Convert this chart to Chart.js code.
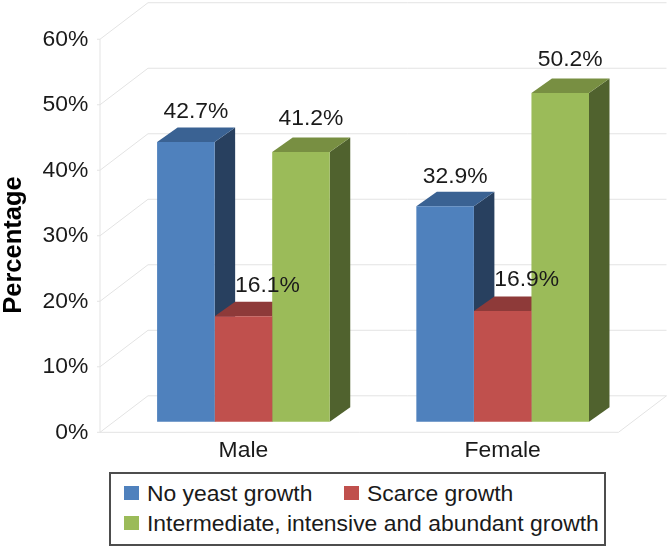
<!DOCTYPE html>
<html>
<head>
<meta charset="utf-8">
<title>Yeast growth by sex</title>
<script src="https://cdn.jsdelivr.net/npm/chart.js@4"></script>
<style>
    html, body { margin: 0; padding: 0; background: #fff; }
    #wrap { position: relative; width: 668px; height: 547px; overflow: hidden; }
    #chart { position: absolute; left: 0; top: 0; }
    #legend {
        position: absolute; left: 109px; top: 472px; width: 497px; height: 74px;
        box-sizing: border-box; border: 2px solid #4d4d4d; background: #fff;
        font: 22.9px "Liberation Sans", Arial, sans-serif; color: #1a1a1a;
    }
    #legend span { position: absolute; white-space: nowrap; line-height: 26px; }
    #legend i { position: absolute; width: 14.5px; height: 14.5px; }
</style>
</head>
<body>
<div id="wrap">
    <canvas id="chart" width="668" height="547"></canvas>
    <div id="legend"></div>
</div>
<script>
(function() {
    'use strict';

    // ── Data ──────────────────────────────────────────────────────────────
    var categories = ['Male', 'Female'];
    var noGrowth = [42.7, 32.9];
    var scarceGrowth = [16.1, 16.9];
    var abundantGrowth = [41.2, 50.2];
    var seriesNames = ['No yeast growth', 'Scarce growth', 'Intermediate, intensive and abundant growth'];
    var yTicks = [0, 10, 20, 30, 40, 50, 60];

    // ── Styles ────────────────────────────────────────────────────────────
    var FONT = '"Liberation Sans", Arial, sans-serif';
    var TEXT = '#1a1a1a';
    var GRID = '#e3e3e3';
    var front = ['#4f81bd', '#c0504d', '#9bbb59'];
    var topFace = ['#3a6293', '#8e3a39', '#788f42'];
    var sideFace = ['#28405f', '#6e2b2a', '#50622e'];
    var labelShift = [10, 24, 10];
    var labelLift = [30, 31, 33];

    // box depth of the bars and of the walls
    var BAR_DX = 20.5, BAR_DY = -14.5;
    var WALL_DX = 48, WALL_DY = -36.5;
    var WALL_SHIFT = 13.8;   // the category band sits right of the front floor edge

    function line(ctx, x1, y1, x2, y2) {
        ctx.beginPath();
        ctx.moveTo(x1, y1);
        ctx.lineTo(x2, y2);
        ctx.stroke();
    }

    function poly(ctx, pts, color) {
        ctx.beginPath();
        ctx.moveTo(pts[0][0], pts[0][1]);
        for (var i = 1; i < pts.length; i++) ctx.lineTo(pts[i][0], pts[i][1]);
        ctx.closePath();
        ctx.fillStyle = color;
        ctx.fill();
    }

    // ── 3D walls, bar sides and labels ────────────────────────────────────
    var box3d = {
        id: 'box3d',
        beforeDatasetsDraw: function(chart) {
            var ctx = chart.ctx, a = chart.chartArea, y = chart.scales.y;
            var left = a.left - WALL_SHIFT, right = a.right - WALL_SHIFT;
            ctx.save();
            ctx.strokeStyle = GRID;
            ctx.lineWidth = 1;
            yTicks.forEach(function(v) {
                var p = y.getPixelForValue(v);
                line(ctx, left - 3, p, left, p);
                line(ctx, left, p, left + WALL_DX, p + WALL_DY);
                line(ctx, left + WALL_DX, p + WALL_DY, right + WALL_DX, p + WALL_DY);
            });
            line(ctx, left, y.getPixelForValue(60), left, y.getPixelForValue(0));
            var floor = y.getPixelForValue(0);
            line(ctx, left, floor, right, floor);
            line(ctx, right, floor, right + WALL_DX, floor + WALL_DY);

            chart.data.datasets.forEach(function(ds, i) {
                chart.getDatasetMeta(i).data.forEach(function(bar) {
                    var l = bar.x - bar.width / 2, r = bar.x + bar.width / 2;
                    poly(ctx, [[r, bar.y], [r + BAR_DX, bar.y + BAR_DY], [r + BAR_DX, bar.base + BAR_DY], [r, bar.base]], sideFace[i]);
                    poly(ctx, [[l, bar.y], [l + BAR_DX, bar.y + BAR_DY], [r + BAR_DX, bar.y + BAR_DY], [r, bar.y]], topFace[i]);
                });
            });
            ctx.restore();
        },
        afterDraw: function(chart) {
            var ctx = chart.ctx;
            ctx.save();
            ctx.fillStyle = TEXT;
            ctx.font = '22.9px ' + FONT;
            ctx.textAlign = 'center';
            ctx.textBaseline = 'middle';
            chart.data.datasets.forEach(function(ds, i) {
                chart.getDatasetMeta(i).data.forEach(function(bar, j) {
                    ctx.fillText(ds.data[j].toFixed(1) + '%', bar.x + labelShift[i], bar.y - labelLift[i]);
                });
            });
            ctx.translate(14, 245);
            ctx.rotate(-Math.PI / 2);
            ctx.fillStyle = '#000';
            ctx.font = 'bold 25.5px ' + FONT;
            ctx.fillText('Percentage', 0, 0);
            ctx.restore();
        }
    };

    // ── Chart ─────────────────────────────────────────────────────────────
    var chart = new Chart(document.getElementById('chart'), {
        type: 'bar',
        data: {
            labels: categories,
            datasets: [noGrowth, scarceGrowth, abundantGrowth].map(function(values, i) {
                return {
                    label: seriesNames[i],
                    data: values,
                    backgroundColor: front[i],
                    yAxisID: 'yBar',
                    barPercentage: 1,
                    categoryPercentage: 0.666
                };
            })
        },
        options: {
            responsive: false,
            animation: false,
            layout: { padding: { top: 38.7, right: 35.7, left: 0, bottom: 0 } },
            plugins: { legend: { display: false }, tooltip: { enabled: false } },
            scales: {
                x: {
                    grid: { display: false, drawTicks: false },
                    border: { display: false },
                    afterFit: function(scale) { scale.height = 114.7; },
                    ticks: { color: TEXT, padding: 5, maxRotation: 0, font: { family: FONT, size: 22.9 } }
                },
                y: {
                    min: 0,
                    max: 60,
                    grid: { display: false, drawTicks: false },
                    border: { display: false },
                    afterFit: function(scale) { scale.width = 113.8; },
                    afterBuildTicks: function(scale) {
                        scale.ticks = yTicks.map(function(v) { return { value: v }; });
                    },
                    ticks: {
                        color: TEXT,
                        padding: 25.5,
                        font: { family: FONT, size: 22.9 },
                        callback: function(v) { return v + '%'; }
                    }
                },
                // same pixels per percent as y, its zero lifted to the bar feet
                yBar: { display: false, min: -1.6, max: 58.4 }
            }
        },
        plugins: [box3d]
    });

    // ── Legend ────────────────────────────────────────────────────────────
    var legendSpots = [[13, 11], [233, 11], [13, 41]];
    var legend = document.getElementById('legend');
    chart.data.datasets.forEach(function(ds, i) {
        var swatch = document.createElement('i');
        swatch.style.background = ds.backgroundColor;
        swatch.style.left = legendSpots[i][0] + 'px';
        swatch.style.top = (legendSpots[i][1] + 0.5) + 'px';
        var text = document.createElement('span');
        text.textContent = ds.label;
        text.style.left = (legendSpots[i][0] + 23) + 'px';
        text.style.top = (legendSpots[i][1] - 5.5) + 'px';
        legend.appendChild(swatch);
        legend.appendChild(text);
    });
})();
</script>
</body>
</html>
